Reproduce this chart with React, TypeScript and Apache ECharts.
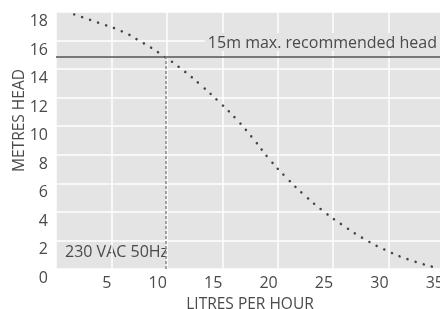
import React, { useEffect, useRef } from "react";
import * as echarts from "echarts";

const flowLph = [1.64, 3.77, 5.84, 7.73, 9.59, 11.4, 13.08, 14.67, 16.26, 17.86, 19.23, 20.74, 22.36, 24.1, 25.9, 27.79, 29.8, 31.85, 34.04];
const headM = [17.83, 17.26, 16.68, 15.89, 14.98, 13.96, 12.87, 11.73, 10.5, 9.06, 7.71, 6.43, 5.21, 4.06, 3.05, 2.11, 1.3, 0.65, 0.14];
const maxHead = 14.9;
const maxHeadFlow = 9.94;
const maxHeadLabel = "15m max. recommended head";
const supplyLabel = "230 VAC 50Hz";
const xTitle = "LITRES PER HOUR";
const yTitle = "METRES HEAD";

const FONT = "Open Sans";
const TXT = "#4a4a4a";
const PLOT_BG = "#e4e4e4";

export default function App() {
  const ref = useRef<HTMLDivElement>(null);
  useEffect(() => {
    if (!ref.current) return;
    const chart = echarts.init(ref.current, undefined, { renderer: "svg" });
    const pts = flowLph.map((x, i) => [x, headM[i]]);
    chart.setOption({
      animation: false,
      textStyle: { fontFamily: FONT },
      grid: {
        left: 56,
        top: 12,
        right: -4,
        bottom: 40,
        show: true,
        backgroundColor: PLOT_BG,
        borderWidth: 0,
        containLabel: false,
        outerBoundsMode: "none",
      },
      xAxis: {
        type: "value",
        min: 0,
        max: 35,
        interval: 5,
        name: xTitle,
        nameLocation: "middle",
        nameGap: 21,
        nameTextStyle: { color: TXT, fontSize: 15.5, fontFamily: FONT },
        axisLine: { show: false },
        axisTick: { show: false },
        splitLine: { show: true, lineStyle: { color: "#ffffff", width: 1.5 } },
        axisLabel: { showMinLabel: false, align: "right", color: TXT, fontSize: 16, fontFamily: FONT, margin: 5 },
      },
      yAxis: {
        type: "value",
        min: 0,
        max: 18,
        interval: 2,
        axisLine: { show: false },
        axisTick: { show: false },
        splitLine: { show: true, lineStyle: { color: "#ffffff", width: 1.5 } },
        axisLabel: { color: TXT, fontSize: 16, fontFamily: FONT, margin: 8, verticalAlign: "top" },
      },
      graphic: [
        {
          type: "text",
          left: 65,
          top: 243,
          style: { text: supplyLabel, fill: TXT, fontSize: 16, fontFamily: FONT },
        },
        {
          type: "text",
          x: 18,
          y: 120.5,
          rotation: Math.PI / 2,
          style: { text: yTitle, fill: TXT, fontSize: 15.5, fontFamily: FONT, align: "center", verticalAlign: "middle" },
        },
        {
          type: "text",
          x: 440,
          y: 42,
          z: 10,
          style: {
            text: maxHeadLabel,
            fill: TXT,
            fontSize: 16,
            fontFamily: FONT,
            align: "right",
            verticalAlign: "middle",
            backgroundColor: PLOT_BG,
            padding: [1, 3, 1, 3],
          },
        },
      ],
      series: [
        {
          type: "line",
          data: pts,
          smooth: true,
          symbol: "none",
          lineStyle: { color: "#444444", width: 2.5, type: [0.1, 8.3], cap: "round" },
          markLine: {
            silent: true,
            symbol: "none",
            label: { show: false },
            data: [
              [
                { coord: [0, maxHead], lineStyle: { color: "#555555", width: 1.5, type: "solid" } },
                { coord: [35, maxHead] },
              ],
              [
                { coord: [maxHeadFlow, 0], lineStyle: { color: "#888888", width: 1.5, type: [3, 2] } },
                { coord: [maxHeadFlow, maxHead] },
              ],
            ],
          },
        },
      ],
    });
    return () => chart.dispose();
  }, []);
  return <div ref={ref} style={{ position: "fixed", left: 0, top: 0, width: 440, height: 309 }} />;
}
